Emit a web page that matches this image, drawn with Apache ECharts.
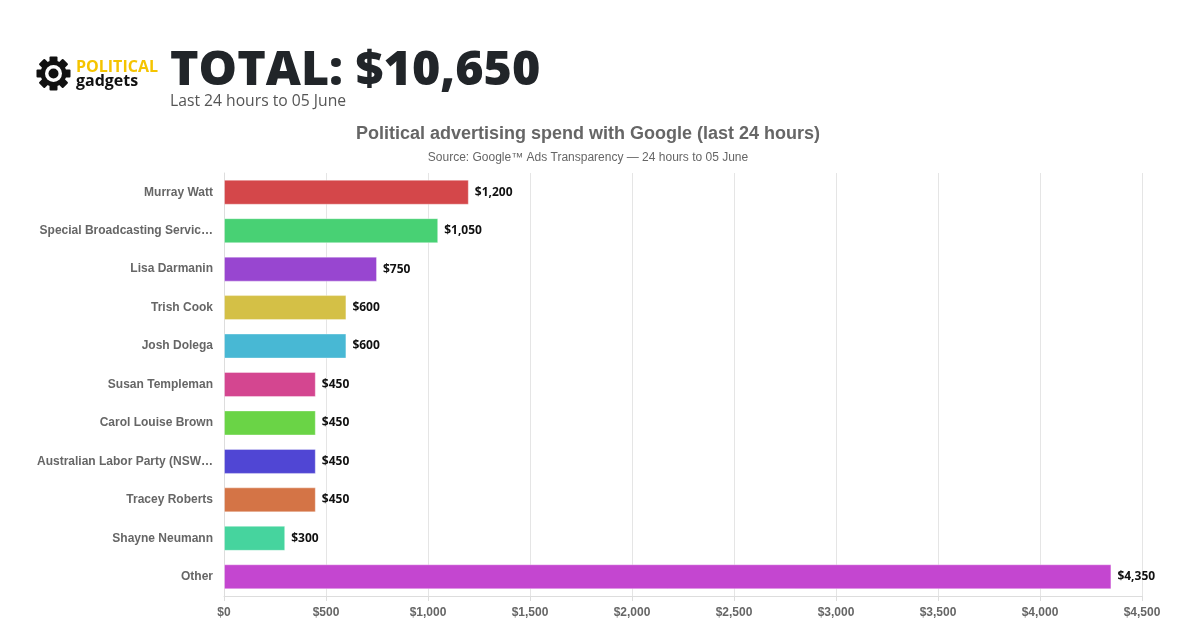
<!DOCTYPE html>
<html>
<head>
<meta charset="UTF-8" />
<title>Political advertising spend</title>
<style type="text/css">
body,html{margin:0;padding:0;width:1200px;height:623px;overflow:hidden;background:#fff;}
#head{position:absolute;left:0;top:0;width:1200px;height:120px;}
#gear{position:absolute;left:36px;top:56px;}
.brand{position:absolute;left:76px;font-family:"Open Sans",sans-serif;font-weight:700;font-size:16px;line-height:14px;}
#total{position:absolute;left:170px;top:36px;font-family:"Open Sans",sans-serif;font-weight:800;font-size:48.4px;line-height:60px;color:#212529;letter-spacing:0px;}
#sub{position:absolute;left:170px;top:90px;font-family:"Open Sans",sans-serif;font-size:15.7px;line-height:20px;color:#555;}
#chartContainer{position:absolute;left:0;top:0;width:1200px;height:623px;}
</style>
<script src="https://cdn.jsdelivr.net/npm/echarts@6/dist/echarts.min.js"></script>
</head>
<body>
<div id="chartContainer"></div>
<div id="head">
  <svg id="gear" width="35" height="35" viewBox="-17.5 -17.5 35 35">
    <g fill="#111">
      <rect x="-4" y="-17" width="8" height="34" rx="1" />
      <rect x="-4" y="-17" width="8" height="34" rx="1" transform="rotate(45)" />
      <rect x="-4" y="-17" width="8" height="34" rx="1" transform="rotate(90)" />
      <rect x="-4" y="-17" width="8" height="34" rx="1" transform="rotate(135)" />
      <circle r="13" />
    </g>
    <circle r="8.5" fill="#fff" />
    <circle r="5" fill="#111" />
  </svg>
  <div class="brand" style="top:59px;color:#f5c400;">POLITICAL</div>
  <div class="brand" style="top:73px;color:#111;">gadgets</div>
  <div id="total">TOTAL: $10,650</div>
  <div id="sub">Last 24 hours to 05 June</div>
</div>
<script type="text/javascript">
var categories = ['Murray Watt', 'Special Broadcasting Servic\u2026', 'Lisa Darmanin', 'Trish Cook',
  'Josh Dolega', 'Susan Templeman', 'Carol Louise Brown', 'Australian Labor Party (NSW\u2026',
  'Tracey Roberts', 'Shayne Neumann', 'Other'];
var spend = [1200, 1050, 750, 600, 600, 450, 450, 450, 450, 300, 4350];
var barColors = ['#d4474a', '#48d174', '#9846d0', '#d4c046', '#48b8d4', '#d44690',
  '#6ad446', '#5046d4', '#d47446', '#46d49e', '#c446d0'];
var xTicks = [0, 500, 1000, 1500, 2000, 2500, 3000, 3500, 4000, 4500];

function money(v){ return '$' + v.toLocaleString('en-US'); }

var chart = echarts.init(document.getElementById('chartContainer'));
chart.setOption({
  animation: false,
  title: {
    text: 'Political advertising spend with Google (last 24 hours)',
    subtext: 'Source: Google\u2122 Ads Transparency \u2014 24 hours to 05 June',
    left: 583, top: 120, textAlign: 'center', itemGap: 9,
    textStyle: { fontFamily: 'Liberation Sans', fontSize: 18, fontWeight: 'bold', color: '#666' },
    subtextStyle: { fontFamily: 'Liberation Sans', fontSize: 12, color: '#666' }
  },
  grid: { left: 224, right: 58, top: 173, bottom: 27, containLabel: false },
  xAxis: {
    type: 'value', min: 0, max: xTicks[xTicks.length - 1], interval: 500,
    axisLine: { show: true, lineStyle: { color: '#ddd' } },
    axisTick: { show: true, length: 5, lineStyle: { color: '#ddd' } },
    splitLine: { show: true, lineStyle: { color: '#e5e5e5' } },
    axisLabel: { formatter: money, fontFamily: 'Liberation Sans', fontSize: 12, fontWeight: 'bold', color: '#666', margin: 11 }
  },
  yAxis: {
    type: 'category', data: categories, inverse: true,
    axisLine: { show: true, lineStyle: { color: '#ddd' } },
    axisTick: { show: false },
    axisLabel: { fontFamily: 'Liberation Sans', fontSize: 12, fontWeight: 'bold', color: '#666', margin: 11 }
  },
  series: [{
    type: 'bar', barWidth: 25,
    data: spend.map(function(v, i){
      return { value: v, itemStyle: { color: barColors[i] } };
    }),
    itemStyle: { borderWidth: 1, borderColor: 'rgba(255,255,255,0.35)' },
    label: {
      show: true, position: 'right', distance: 6,
      formatter: function(p){ return money(p.value); },
      fontFamily: 'Open Sans', fontSize: 12, fontWeight: 'bold', color: '#111'
    }
  }]
});
</script>
</body>
</html>
